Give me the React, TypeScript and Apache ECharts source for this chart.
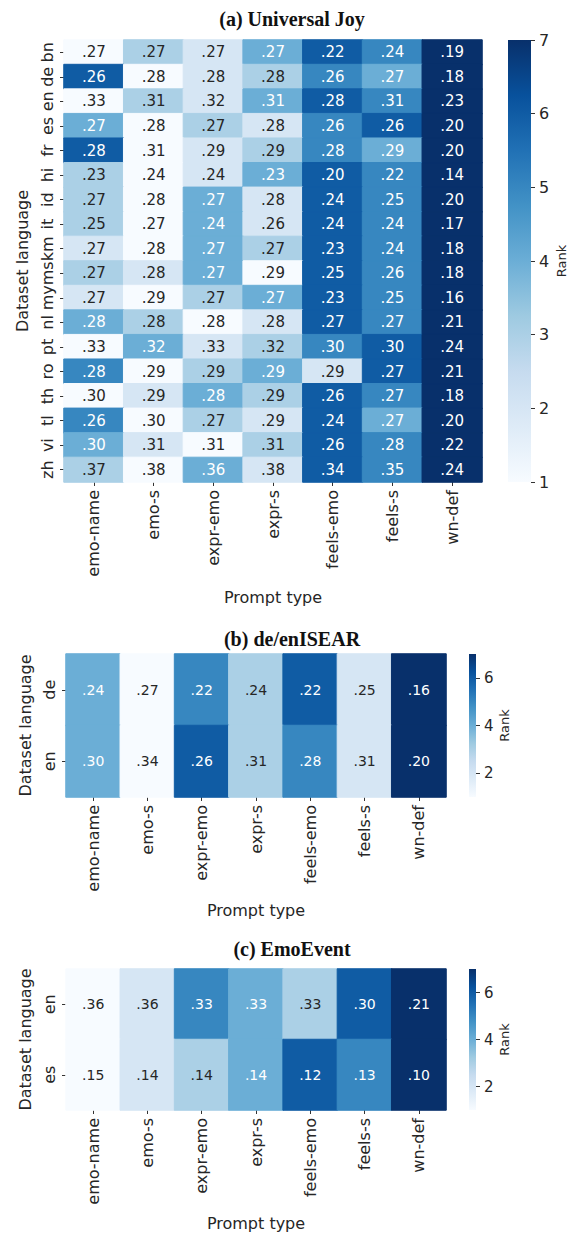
import React, { useEffect, useRef } from "react";
import * as echarts from "echarts";

const PROMPTS = ["emo-name", "emo-s", "expr-emo", "expr-s", "feels-emo", "feels-s", "wn-def"];

const LANGS_A = ["bn", "de", "en", "es", "fr", "hi", "id", "it", "km", "ms", "my", "nl", "pt", "ro", "th", "tl", "vi", "zh"];
const VALUES_A = [
  [0.27, 0.27, 0.27, 0.27, 0.22, 0.24, 0.19],
  [0.26, 0.28, 0.28, 0.28, 0.26, 0.27, 0.18],
  [0.33, 0.31, 0.32, 0.31, 0.28, 0.31, 0.23],
  [0.27, 0.28, 0.27, 0.28, 0.26, 0.26, 0.2],
  [0.28, 0.31, 0.29, 0.29, 0.28, 0.29, 0.2],
  [0.23, 0.24, 0.24, 0.23, 0.2, 0.22, 0.14],
  [0.27, 0.28, 0.27, 0.28, 0.24, 0.25, 0.2],
  [0.25, 0.27, 0.24, 0.26, 0.24, 0.24, 0.17],
  [0.27, 0.28, 0.27, 0.27, 0.23, 0.24, 0.18],
  [0.27, 0.28, 0.27, 0.29, 0.25, 0.26, 0.18],
  [0.27, 0.29, 0.27, 0.27, 0.23, 0.25, 0.16],
  [0.28, 0.28, 0.28, 0.28, 0.27, 0.27, 0.21],
  [0.33, 0.32, 0.33, 0.32, 0.3, 0.3, 0.24],
  [0.28, 0.29, 0.29, 0.29, 0.29, 0.27, 0.21],
  [0.3, 0.29, 0.28, 0.29, 0.26, 0.27, 0.18],
  [0.26, 0.3, 0.27, 0.29, 0.24, 0.27, 0.2],
  [0.3, 0.31, 0.31, 0.31, 0.26, 0.28, 0.22],
  [0.37, 0.38, 0.36, 0.38, 0.34, 0.35, 0.24],
];
const RANKS_A = [
  [1, 3, 2, 4, 6, 5, 7],
  [6, 1, 2, 3, 5, 4, 7],
  [1, 3, 2, 4, 6, 5, 7],
  [4, 1, 3, 2, 5, 6, 7],
  [6, 1, 2, 3, 5, 4, 7],
  [3, 1, 2, 4, 6, 5, 7],
  [3, 1, 4, 2, 6, 5, 7],
  [3, 1, 4, 2, 6, 5, 7],
  [2, 1, 4, 3, 6, 5, 7],
  [3, 2, 4, 1, 6, 5, 7],
  [2, 1, 3, 4, 6, 5, 7],
  [4, 3, 1, 2, 6, 5, 7],
  [1, 4, 2, 3, 5, 6, 7],
  [5, 1, 3, 4, 2, 6, 7],
  [1, 2, 4, 3, 6, 5, 7],
  [5, 1, 3, 2, 6, 4, 7],
  [4, 2, 1, 3, 6, 5, 7],
  [3, 1, 4, 2, 6, 5, 7],
];

const LANGS_B = ["de", "en"];
const VALUES_B = [
  [0.24, 0.27, 0.22, 0.24, 0.22, 0.25, 0.16],
  [0.3, 0.34, 0.26, 0.31, 0.28, 0.31, 0.2],
];
const RANKS_B = [
  [4, 1, 5, 3, 6, 2, 7],
  [4, 1, 6, 3, 5, 2, 7],
];

const LANGS_C = ["en", "es"];
const VALUES_C = [
  [0.36, 0.36, 0.33, 0.33, 0.33, 0.3, 0.21],
  [0.15, 0.14, 0.14, 0.14, 0.12, 0.13, 0.1],
];
const RANKS_C = [
  [1, 2, 5, 4, 3, 6, 7],
  [1, 2, 3, 4, 6, 5, 7],
];

const TITLES = ["(a) Universal Joy", "(b) de/enISEAR", "(c) EmoEvent"];
const TICKS_A = [1, 2, 3, 4, 5, 6, 7];
const TICKS_BC = [2, 4, 6];

const BLUES = ["#f7fbff", "#deebf7", "#c6dbef", "#9ecae1", "#6baed6", "#4292c6", "#2171b5", "#08519c", "#08306b"];
const SANS = "DejaVu Sans";
const TXT = "#262626";

const fmt = (v: number) => v.toFixed(2).replace(/^0/, "");

function heatData(ranks: number[][]) {
  const out: any[] = [];
  ranks.forEach((row, i) =>
    row.forEach((r, j) => {
      out.push({
        value: [j, i, r],
        label: { color: r >= 4 ? "#ffffff" : TXT },
        itemStyle: { borderWidth: 1, borderColor: echarts.color.lerp((r - 1) / 6, BLUES) },
      });
    })
  );
  return out;
}

export default function App() {
  const ref = useRef<HTMLDivElement>(null);
  useEffect(() => {
    const chart = echarts.init(ref.current!, null, { renderer: "svg" });

    const panels = [
      { langs: LANGS_A, values: VALUES_A, ranks: RANKS_A, grid: { left: 64, top: 40, width: 418, height: 442 }, cb: { left: 508, top: 40, width: 23, height: 442 }, cellFont: 15, ticks: TICKS_A, cbFont: 16, xGap: 107, yGap: 34, rankGap: 24 },
      { langs: LANGS_B, values: VALUES_B, ranks: RANKS_B, grid: { left: 66, top: 654, width: 380, height: 143 }, cb: { left: 469, top: 654, width: 7, height: 143 }, cellFont: 14, ticks: TICKS_BC, cbFont: 15, xGap: 105, yGap: 30, rankGap: 22 },
      { langs: LANGS_C, values: VALUES_C, ranks: RANKS_C, grid: { left: 66, top: 969, width: 380, height: 141 }, cb: { left: 469, top: 969, width: 7, height: 141 }, cellFont: 14, ticks: TICKS_BC, cbFont: 15, xGap: 105, yGap: 30, rankGap: 22 },
    ];

    const grids: any[] = [];
    const xAxes: any[] = [];
    const yAxes: any[] = [];
    const series: any[] = [];

    panels.forEach((p, k) => {
      const gH = 2 * k;
      const gC = 2 * k + 1;
      grids.push(p.grid, p.cb);
      xAxes.push({
        type: "category",
        gridIndex: gH,
        data: PROMPTS,
        axisLine: { show: false },
        axisTick: { show: true, alignWithLabel: true, length: 4, lineStyle: { color: "#333" } },
        axisLabel: { rotate: 90, interval: 0, fontSize: 16, color: TXT, fontFamily: SANS, margin: 8 },
        splitLine: { show: false },
        name: "Prompt type",
        nameLocation: "middle",
        nameGap: p.xGap,
        nameTextStyle: { fontSize: 16, color: TXT, fontFamily: SANS },
      });
      xAxes.push({ type: "category", gridIndex: gC, data: ["r"], show: false });
      yAxes.push({
        type: "category",
        gridIndex: gH,
        data: p.langs,
        inverse: true,
        axisLine: { show: false },
        axisTick: { show: true, alignWithLabel: true, length: 4, lineStyle: { color: "#333" } },
        axisLabel: { rotate: 90, interval: 0, fontSize: 16, color: TXT, fontFamily: SANS, margin: 9 },
        splitLine: { show: false },
        name: "Dataset language",
        nameLocation: "middle",
        nameRotate: 90,
        nameGap: p.yGap,
        nameTextStyle: { fontSize: 16, color: TXT, fontFamily: SANS },
      });
      yAxes.push({
        type: "value",
        gridIndex: gC,
        min: 1,
        max: 7,
        position: "right",
        axisLine: { show: false },
        splitLine: { show: false },
        axisTick: { show: true, length: 4, lineStyle: { color: "#333" }, customValues: p.ticks },
        axisLabel: { fontSize: p.cbFont, color: TXT, fontFamily: SANS, margin: 8, customValues: p.ticks },
        name: "Rank",
        nameLocation: "middle",
        nameRotate: 90,
        nameGap: p.rankGap,
        nameTextStyle: { fontSize: 13, color: TXT, fontFamily: SANS },
      });
      const values = p.values;
      series.push({
        type: "heatmap",
        xAxisIndex: gH,
        yAxisIndex: gH,
        data: heatData(p.ranks),
        label: {
          show: true,
          fontSize: p.cellFont,
          fontFamily: SANS,
          formatter: (q: any) => fmt(values[q.value[1]][q.value[0]]),
        },
        emphasis: { disabled: true },
      });
      series.push({
        type: "bar",
        xAxisIndex: gC,
        yAxisIndex: gC,
        data: [7],
        barWidth: "100%",
        clip: true,
        silent: true,
        itemStyle: {
          color: new echarts.graphic.LinearGradient(
            0, 0, 0, 1,
            BLUES.slice().reverse().map((c, i) => ({ offset: i / (BLUES.length - 1), color: c }))
          ),
        },
      });
    });

    const titleY = [19, 639, 949];
    const titleX = [292, 292, 292];

    chart.setOption({
      animation: false,
      backgroundColor: "#ffffff",
      grid: grids,
      xAxis: xAxes,
      yAxis: yAxes,
      visualMap: {
        type: "continuous",
        show: false,
        min: 1,
        max: 7,
        dimension: 2,
        seriesIndex: [0, 2, 4],
        inRange: { color: BLUES },
      },
      series,
      graphic: TITLES.map((t, i) => ({
        type: "text",
        x: titleX[i],
        y: titleY[i],
        style: {
          text: t,
          textAlign: "center",
          textVerticalAlign: "middle",
          font: "bold 20px 'Liberation Serif', serif",
          fill: "#111",
        },
      })),
    });
    return () => chart.dispose();
  }, []);
  return <div ref={ref} style={{ position: "absolute", left: 0, top: 0, width: 574, height: 1234 }} />;
}
